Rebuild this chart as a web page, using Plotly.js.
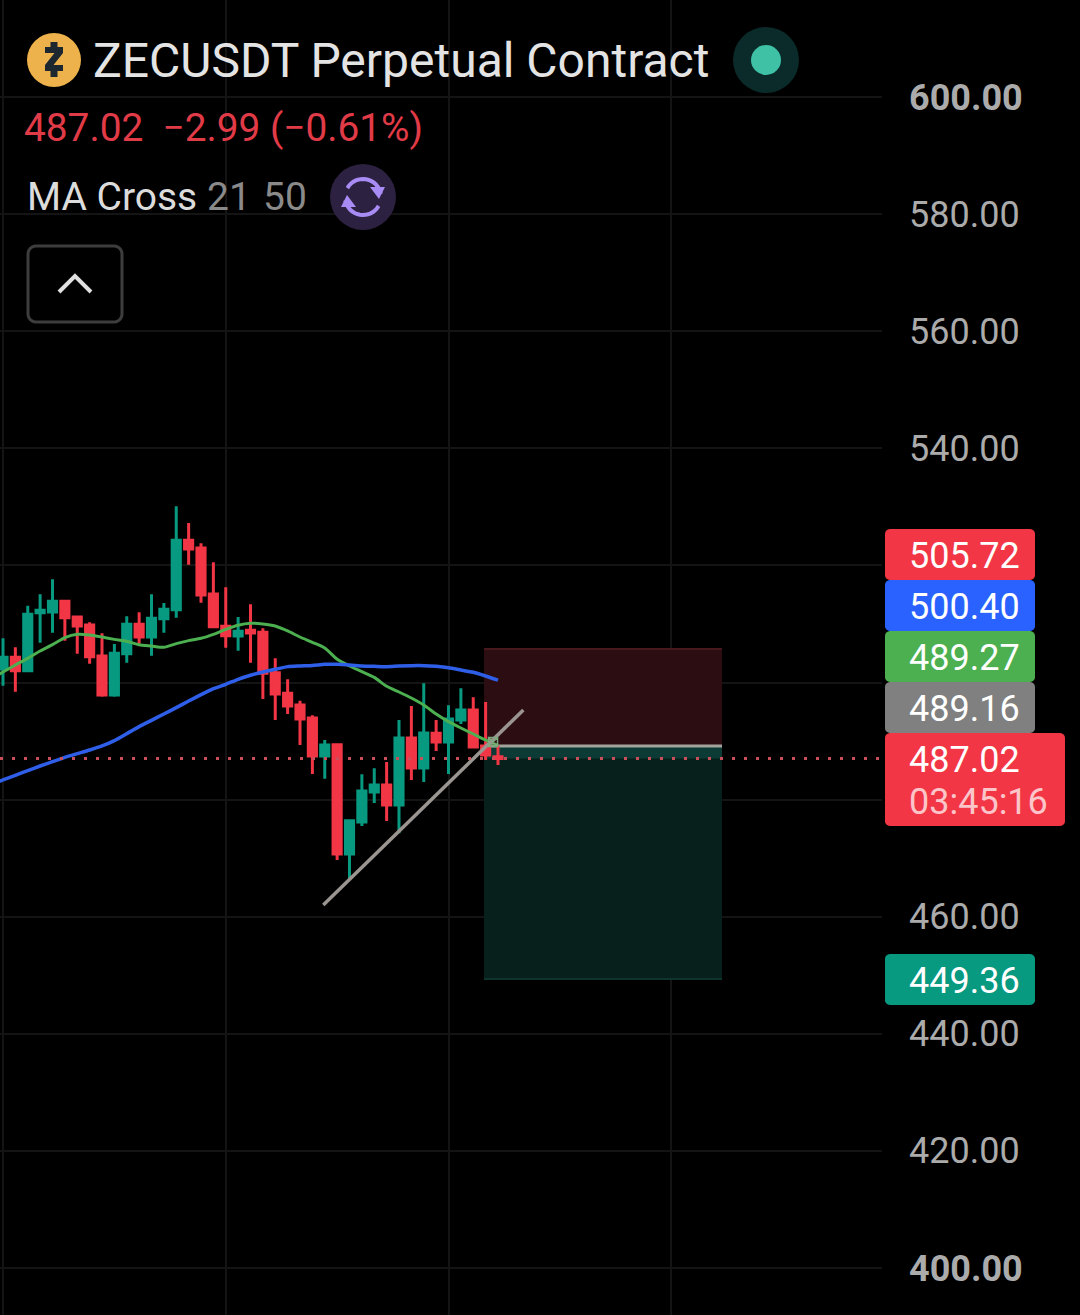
<!DOCTYPE html>
<html><head><meta charset="utf-8">
<script src="https://cdn.plot.ly/plotly-3.0.1.min.js"></script>
<style>html,body{margin:0;padding:0;background:#000}#c{width:1080px;height:1315px}</style>
</head><body><div id="c"></div>
<script>
const candleOpen=[502.31,504.30,502.02,511.93,512.04,513.87,511.19,509.82,504.53,497.87,504.93,509.94,507.77,510.90,512.44,524.28,522.97,515.12,509.59,507.94,508.91,508.57,501.68,498.15,496.16,493.94,487.45,489.38,470.71,476.18,481.30,482.50,479.08,490.52,485.40,491.32,489.84,493.60,495.30,489.16,487.30];
const candleHigh=[507.55,506.01,513.12,515.06,517.62,513.87,511.25,510.28,508.40,506.58,511.30,511.99,515.06,513.58,530.09,527.24,523.77,520.53,516.26,511.19,513.35,509.25,504.13,500.54,496.90,494.39,490.18,489.50,476.63,484.32,485.34,486.42,493.60,495.99,499.86,493.60,496.10,499.00,497.47,496.67,489.27];
const candleLow=[499.46,498.44,502.02,506.81,508.51,507.15,504.93,503.22,497.58,497.58,503.39,506.63,504.59,508.51,511.08,520.13,513.64,509.54,505.95,505.44,503.39,497.18,493.60,494.62,489.33,484.37,483.58,469.69,466.27,475.49,479.42,476.35,474.24,483.35,483.00,488.30,484.37,492.91,488.99,486.77,485.91];
const candleClose=[504.30,502.02,511.64,512.33,513.87,511.07,509.65,504.41,497.87,504.98,509.94,507.77,510.96,512.50,524.28,522.80,514.95,509.54,508.00,508.74,508.46,501.57,498.04,495.99,493.77,487.45,489.33,470.71,476.40,481.47,482.50,479.08,490.52,485.40,491.38,489.84,493.77,495.30,488.99,487.62,487.02];
const maFast=[500.60,501.80,503.00,504.13,505.38,506.46,507.66,508.23,508.12,507.77,507.37,507.03,506.46,506.24,506.01,506.64,507.15,507.55,508.23,509.08,509.77,510.11,510.00,509.65,508.80,507.77,506.86,505.90,503.96,502.82,501.85,500.88,499.35,498.38,497.35,496.16,494.62,493.31,492.23,491.20,490.18,489.27];
const maSlow=[482.55,483.35,484.15,484.94,485.74,486.48,487.22,487.85,488.47,489.16,490.07,491.26,492.46,493.54,494.62,495.70,496.84,497.92,498.95,499.69,500.54,501.23,501.79,502.25,502.71,502.82,502.90,503.10,503.10,502.99,502.82,502.76,502.71,502.82,502.88,502.88,502.76,502.53,502.14,501.74,501.11,500.40];
const trendX=[25.88,42.05], trendY=[462.0,495.3];
const crossX=[39.6], crossY=[489.84];
const lastPrice=487.02, entryPrice=489.16, stopPrice=505.72, targetPrice=449.36;
const positionX=[38.87,58.1];
const priceTicks=[400,420,440,460,480,500,520,540,560,580,600];
const priceLabels=['<b>400.00</b>','420.00','440.00','460.00','','','','540.00','560.00','580.00','<b>600.00</b>'];
const gridX=[0,18,36,54,72];
const badgeLabels=['505.72','500.40','489.27','489.16','487.02','449.36'];

const W=882,H=1315;
const px=x=>x/W, py=y=>1-y/H;
const FF='Roboto, sans-serif';
const idx=candleOpen.map((_,i)=>i);
const maIdx=maFast.map((_,i)=>i-1);
function pathOf(pts,close){return pts.map((p,i)=>(i?'L':'M')+px(p[0]).toFixed(5)+','+py(p[1]).toFixed(5)).join(' ')+(close?' Z':'');}
function rr(x0,y0,x1,y1,r){const a=[];const arc=(cx,cy,s)=>{for(let k=0;k<=6;k++){const t=s+k/6*Math.PI/2;a.push([cx+r*Math.cos(t),cy+r*Math.sin(t)]);}};
 arc(x1-r,y0+r,-Math.PI/2);arc(x1-r,y1-r,0);arc(x0+r,y1-r,Math.PI/2);arc(x0+r,y0+r,Math.PI);return pathOf(a,true);}
function badge(x0,y0,x1,y1,c){return {type:'path',xref:'paper',yref:'paper',path:rr(x0,y0,x1,y1,5),fillcolor:c,line:{width:0},layer:'above'};}
function circ(cx,cy,r,c){return {type:'circle',xref:'paper',yref:'paper',x0:px(cx-r),x1:px(cx+r),y0:py(cy+r),y1:py(cy-r),fillcolor:c,line:{width:0},layer:'above'};}
function poly(pts,close,fill,lc,lw){return {type:'path',xref:'paper',yref:'paper',path:pathOf(pts,close),fillcolor:fill||'rgba(0,0,0,0)',line:{color:lc||'rgba(0,0,0,0)',width:lw||0},layer:'above'};}
function arcPts(cx,cy,r,a0,a1){const o=[];for(let k=0;k<=16;k++){const t=(a0+(a1-a0)*k/16)*Math.PI/180;o.push([cx+r*Math.cos(t),cy+r*Math.sin(t)]);}return o;}
function txt(x,y,text,size,color,anchor){return {xref:'paper',yref:'paper',x:px(x),y:py(y),text,showarrow:false,xanchor:anchor||'left',yanchor:'middle',font:{family:FF,size,color},borderpad:0,borderwidth:0};}

const shapes=[
 {type:'rect',xref:'paper',yref:'paper',x0:px(215),x1:px(235),y0:py(236),y1:py(215),fillcolor:'#000',line:{width:0},layer:'between'},
 {type:'rect',xref:'x',yref:'y',x0:positionX[0],x1:positionX[1],y0:entryPrice,y1:stopPrice,fillcolor:'#2c0d11',line:{width:0},layer:'between'},
 {type:'line',xref:'x',yref:'y',x0:positionX[0],x1:positionX[1],y0:stopPrice,y1:stopPrice,line:{color:'#47191f',width:2},layer:'between'},
 {type:'rect',xref:'x',yref:'y',x0:positionX[0],x1:positionX[1],y0:targetPrice,y1:entryPrice,fillcolor:'#07201b',line:{width:0},layer:'between'},
 {type:'rect',xref:'x',yref:'y',x0:positionX[0],x1:positionX[1],y0:lastPrice,y1:entryPrice,fillcolor:'#0b3b34',line:{width:0},layer:'between'},
 {type:'line',xref:'x',yref:'y',x0:positionX[0],x1:positionX[1],y0:targetPrice,y1:targetPrice,line:{color:'#0d342d',width:2},layer:'between'},
 {type:'line',xref:'x',yref:'y',x0:positionX[0],x1:positionX[1],y0:entryPrice,y1:entryPrice,line:{color:'#a3a39d',width:3},layer:'between'},
 circ(54,60,27,'#EDB24B'),
 poly([[50.5,42],[57.5,42],[57.5,47],[63,47],[63,53],[53.5,65],[63,65],[63,71],[57.5,71],[57.5,77],[50.5,77],[50.5,71],[45,71],[45,65],[54.5,53],[45,53],[45,47],[50.5,47]],true,'#1d2730'),
 circ(766,60,33,'#0b2b2b'),circ(766,60,15,'#3fc1a6'),
 circ(363,197,33,'#2c2140'),
 poly(arcPts(363,197,18,-150,-10),false,null,'#a98bf5',4),
 poly(arcPts(363,197,18,30,170),false,null,'#a98bf5',4),
 poly([[385,187],[370,187],[379,199]],true,'#a98bf5'),
 poly([[341,207],[356,207],[347,195]],true,'#a98bf5'),
 {type:'path',xref:'paper',yref:'paper',path:rr(28,246,122,322,8),fillcolor:'#000',line:{color:'#3d3d3d',width:3},layer:'above'},
 poly([[59,292],[75,276],[91,292]],false,null,'#e0e0e0',4),
 badge(885,529,1035,580,'#F23645'),
 badge(885,580,1035,631,'#2962FF'),
 badge(885,631,1035,682,'#4CAF50'),
 badge(885,682,1035,733,'#808080'),
 badge(885,733,1065,826,'#F23645'),
 badge(885,954,1035,1005,'#089981')
];

const annotations=[
 txt(24,128,'487.02  −2.99 (−0.61%)',38.8,'#E23B48'),
 txt(27,197,'MA Cross',39,'#dcdcdc'),
 txt(207,197,'21',39,'#8a8a8a'),
 txt(263,197,'50',39,'#8a8a8a'),
 txt(1020,556,badgeLabels[0],36,'#ffffff','right'),
 txt(1020,607,badgeLabels[1],36,'#ffffff','right'),
 txt(1020,658,badgeLabels[2],36,'#ffffff','right'),
 txt(1020,709,badgeLabels[3],36,'#ffffff','right'),
 txt(1020,760,badgeLabels[4],36,'#ffffff','right'),
 txt(1048,802,'03:45:16',36,'#fbc5ca','right'),
 txt(1020,981,badgeLabels[5],36,'#ffffff','right')
];

const traces=[
 {type:'candlestick',x:idx,open:candleOpen,high:candleHigh,low:candleLow,close:candleClose,
  increasing:{line:{color:'#089981',width:3},fillcolor:'#089981'},
  decreasing:{line:{color:'#F23645',width:3},fillcolor:'#F23645'},hoverinfo:'skip',showlegend:false},
 {type:'scatter',mode:'lines',x:maIdx,y:maFast,line:{color:'#4CAF50',width:3,shape:'spline',smoothing:0.6},hoverinfo:'skip',showlegend:false},
 {type:'scatter',mode:'lines',x:maIdx,y:maSlow,line:{color:'#2F5FE8',width:3.5,shape:'spline',smoothing:0.6},hoverinfo:'skip',showlegend:false},
 {type:'scatter',mode:'lines',x:trendX,y:trendY,line:{color:'#9a9590',width:3.5},hoverinfo:'skip',showlegend:false},
 {type:'scatter',mode:'markers',x:crossX,y:crossY,marker:{symbol:'square-x-open',size:9,color:'#7ea87e',line:{width:1.5,color:'#7ea87e'}},hoverinfo:'skip',showlegend:false},
 {type:'scatter',mode:'lines',x:[-0.2424,71.03],y:[lastPrice,lastPrice],line:{color:'#c9505a',width:3,dash:'3px,9px'},hoverinfo:'skip',showlegend:false}
];

const layout={
 width:1080,height:1315,margin:{l:0,r:198,t:0,b:0,pad:0},
 paper_bgcolor:'#000',plot_bgcolor:'#000',showlegend:false,boxgap:0.06,
 font:{family:FF,color:'#b0b0b0'},
 title:{text:'ZECUSDT Perpetual Contract',font:{family:FF,size:48,color:'#e4e4e4'},x:93/1080,xref:'container',xanchor:'left',y:1-60/1315,yref:'container',yanchor:'middle',pad:{t:0,b:0,l:0,r:0}},
 xaxis:{range:[-0.2424,71.03],tickmode:'array',tickvals:gridX,showticklabels:false,ticks:'',showgrid:true,gridcolor:'#141414',gridwidth:2,zeroline:false,showline:false,rangeslider:{visible:false},fixedrange:true},
 yaxis:{range:[391.97,616.57],side:'right',tickmode:'array',tickvals:priceTicks,ticktext:priceLabels,ticks:'',tickfont:{family:FF,size:36,color:'#ababab'},ticklabelstandoff:26,showgrid:true,gridcolor:'#141414',gridwidth:2,zeroline:false,showline:false,fixedrange:true},
 shapes,annotations,hovermode:false
};
Plotly.newPlot('c',traces,layout,{displayModeBar:false,staticPlot:true});
</script></body></html>
